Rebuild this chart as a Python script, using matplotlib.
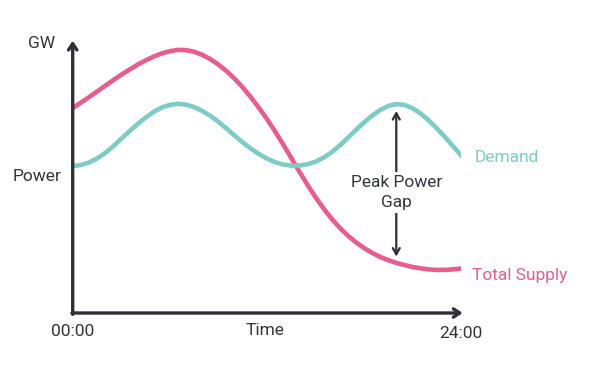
import matplotlib
matplotlib.use("Agg")
import matplotlib.pyplot as plt
import numpy as np

plt.rcParams['font.family'] = ['Roboto', 'DejaVu Sans']

# half-hourly readings (arbitrary power units, 0 = time axis)
hours = np.arange(0, 24.5, 0.5)
demand = [54.2, 54.6, 55.5, 57, 59, 61.5, 64.3, 67, 69.7, 72.1, 74.2, 75.8,
          76.8, 77.2, 76.9, 76.0, 74.6, 72.8, 70.6, 68.1, 65.5, 63, 60.7, 58.7,
          57, 55.7, 54.8, 54.4, 54.4, 54.9, 55.8, 57.3, 59.3, 61.8, 64.6, 67.5,
          70.3, 72.8, 74.9, 76.4, 77.1, 76.8, 75.6, 73.6, 71.1, 68.2, 65, 61.6,
          58.2]
supply = [75.6, 77.6, 79.6, 81.7, 83.8, 85.9, 87.9, 89.8, 91.6, 93.2, 94.6, 95.8,
          96.6, 97.1, 97.0, 96.4, 95.3, 93.7, 91.7, 89.3, 86.5, 83.3, 79.7, 75.8,
          71.6, 67.1, 62.3, 57.3, 52.3, 47.4, 42.8, 38.6, 34.8, 31.5, 28.6, 26.1,
          24.0, 22.2, 20.7, 19.5, 18.5, 17.7, 17.0, 16.5, 16.1, 15.9, 15.9, 16.1,
          16.4]
gap_idx = 40  # 20:00

x_labels = ["00:00", "24:00"]

PINK = "#EA5B8E"
TEAL = "#7DCCC6"
DARK = "#2E3039"
TEXT = "#33363d"

fig = plt.figure(figsize=(6.01, 3.85), dpi=100)
# axes placed so the data origin sits where the reference axes meet
ax = fig.add_axes([72.7 / 601, 72 / 385, (461 - 72.7) / 601, 271 / 385])
ax.set_xlim(0, 24)
ax.set_ylim(0, 100)
ax.axis("off")

ax.plot(hours, supply, color=PINK, lw=3.3, solid_joinstyle="round", zorder=3)
ax.plot(hours, demand, color=TEAL, lw=3.3, solid_joinstyle="round", zorder=3)

# axis arrows
head = "->,head_length=0.45,head_width=0.3"
ax.annotate("", xy=(0, 100.5), xytext=(0, -0.5),
            arrowprops=dict(arrowstyle=head, color=DARK, lw=2.4, shrinkA=0, shrinkB=0),
            annotation_clip=False)
ax.annotate("", xy=(24.1, 0), xytext=(-0.05, 0),
            arrowprops=dict(arrowstyle=head, color=DARK, lw=2.4, shrinkA=0, shrinkB=0),
            annotation_clip=False)

# peak power gap arrow
gx = hours[gap_idx]
ax.annotate("", xy=(gx, supply[gap_idx]), xytext=(gx, demand[gap_idx]),
            arrowprops=dict(arrowstyle="<->,head_length=0.45,head_width=0.25",
                            color=DARK, lw=1.6, shrinkA=5, shrinkB=4.5))
ax.text(gx, 44.5, "Peak Power\nGap", ha="center", va="center",
        fontsize=12.5, color=TEXT, linespacing=1.45, zorder=5,
        bbox=dict(facecolor="white", edgecolor="none", pad=2))

# labels
ax.text(-1.1, 99.5, "GW", ha="right", va="center", fontsize=12.5, color=TEXT, clip_on=False)
ax.text(-0.7, 50.5, "Power", ha="right", va="center", fontsize=12.5, color=TEXT, clip_on=False)
ax.text(0, -7, x_labels[0], ha="center", va="center", fontsize=12.5, color=TEXT, clip_on=False)
ax.text(24, -7.5, x_labels[1], ha="center", va="center", fontsize=12.5, color=TEXT, clip_on=False)
ax.text(11.9, -6.3, "Time", ha="center", va="center", fontsize=12.5, color=TEXT, clip_on=False)
ax.text(24.85, 57.5, "Demand", ha="left", va="center", fontsize=12.5, color=TEAL, clip_on=False)
ax.text(24.7, 13.7, "Total Supply", ha="left", va="center", fontsize=12.5, color=PINK, clip_on=False)

fig.savefig("out.png", dpi=100, facecolor="white")
